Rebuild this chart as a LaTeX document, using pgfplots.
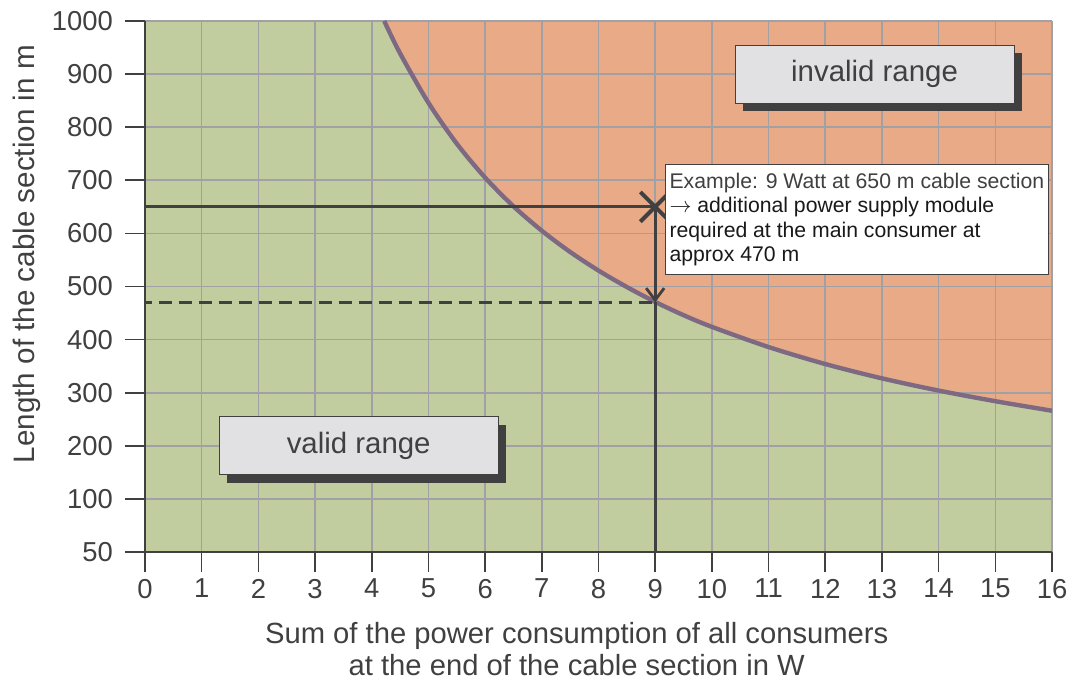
\documentclass[border=0pt]{standalone}
\usepackage{fontspec}
\setmainfont{Liberation Sans}
\usepackage{pgfplots}
\pgfplotsset{compat=1.18}
\usetikzlibrary{arrows.meta,shadows}
\definecolor{greenfill}{RGB}{194,205,159}
\definecolor{orangefill}{RGB}{233,170,135}
\definecolor{curvecol}{RGB}{125,106,130}
\definecolor{dark}{RGB}{64,64,64}
\definecolor{gridcol}{RGB}{160,160,165}
\definecolor{boxfill}{RGB}{225,225,228}
\tikzset{box/.style={draw=dark, line width=0.5pt, fill=boxfill, minimum width=139.5pt, minimum height=29pt, inner sep=0pt,
    font=\fontsize{14.7}{17}\selectfont, text=dark,
    drop shadow={shadow xshift=4pt, shadow yshift=-4pt, fill=dark, opacity=1}}}
\begin{document}
\begin{tikzpicture}
\begin{axis}[
  set layers, clip mode=individual,
  scale only axis, width=453.5pt, height=265.5pt,
  xmin=0, xmax=16, ymin=0, ymax=1000,
  axis x line*=bottom, axis y line*=left,
  axis line style={-, draw=dark, line width=1pt},
  xtick={0,...,16}, ytick={0,100,...,1000},
  yticklabels={50,100,200,300,400,500,600,700,800,900,1000},
  tick align=outside, major tick length=10pt,
  tick style={draw=dark, line width=0.8pt},
  grid=major, major grid style={draw=gridcol, line width=0.8pt},
  ticklabel style={font=\fontsize{13.7}{15}\selectfont, text=dark},
  yticklabel style={xshift=-2.5pt},
  /pgf/number format/assume math mode=true,
  xlabel={Sum of the power consumption of all consumers\\at the end of the cable section in W},
  xlabel style={at={(axis description cs:0.476,-0.183)}, anchor=center, align=center, font=\fontsize{14.6}{16}\selectfont, text=dark},
  ylabel={Length of the cable section in m},
  ylabel style={at={(axis description cs:-0.1301,0.561)}, anchor=center, font=\fontsize{14.8}{17}\selectfont, text=dark},
]
\addplot[on layer=axis background, fill=orangefill, draw=none] coordinates {(0,1000)(16,1000)} \closedcycle;
\addplot[on layer=axis background, fill=greenfill, draw=none] coordinates {
(0,1000)(4.22,1000)(4.5,939)(5,846)(5.5,769)(6,705)(6.5,651)(7,605)(7.5,565)(8,530)(8.5,499)(9,471)(9.5,446)(10,424)(11,386)(12,354)(13,327)(14,304)(15,284)(16,266)} \closedcycle;
\addplot[curvecol, line width=2.2pt, smooth] coordinates {
(4.22,1000)(4.5,939)(5,846)(5.5,769)(6,705)(6.5,651)(7,605)(7.5,565)(8,530)(8.5,499)(9,471)(9.5,446)(10,424)(11,386)(12,354)(13,327)(14,304)(15,284)(16,266)};
\addplot[dark, line width=1.4pt] coordinates {(0,650)(9,650)};
\addplot[dark, line width=1.4pt] coordinates {(9,0)(9,470)};
\addplot[dark, line width=1.4pt, -{Straight Barb[length=6pt,width=9pt]}] coordinates {(9,650)(9,470)};
\addplot[dark, line width=1.4pt, dash pattern=on 6.5pt off 3.5pt, dash phase=-7pt] coordinates {(0,470)(9,470)};
\addplot[only marks, mark=x, mark size=10.5pt, mark options={draw=dark, line width=2pt}] coordinates {(9,650)};
\node[box] at (axis cs:3.77,200) {valid range};
\node[box] at (axis cs:12.87,900) {invalid range};
\node[draw=dark, line width=0.6pt, fill=white, anchor=north west, minimum width=191.5pt, minimum height=55pt, inner xsep=1.5pt, inner ysep=3pt,
  align=left, font=\fontsize{10.6}{12.25}\selectfont, text=black!90]
  at (axis cs:9.17,731) {\textcolor{dark}{Example: 9 Watt at 650 m cable section}\\$\rightarrow$ additional power supply module\\required at the main consumer at\\approx 470 m};
\coordinate (sw) at (rel axis cs:0,0);
\coordinate (ne) at (rel axis cs:1,1);
\end{axis}
\pgfresetboundingbox
\path ([shift={(-72.5pt,-64.5pt)}]sw) rectangle ([shift={(12pt,10.5pt)}]ne);
\end{tikzpicture}
\end{document}
